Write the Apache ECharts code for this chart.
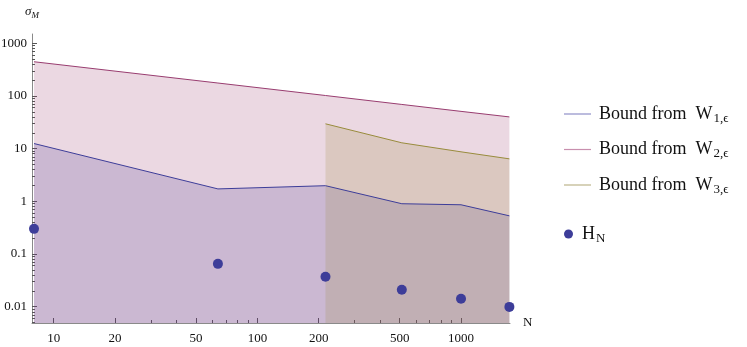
<!DOCTYPE html>
<html>
<head>
<meta charset="utf-8">
<script src="https://cdn.jsdelivr.net/npm/echarts@6/dist/echarts.min.js"></script>
<style>
  html, body { margin: 0; padding: 0; background: #fff; }
  #main { width: 747px; height: 347px; }
</style>
</head>
<body>
<div id="main"></div>
<script>
// sample sizes (cubes) and the bounds
var sizes = [8, 64, 216, 512, 1000, 1728];
var boundW1 = [12.5, 1.72, 1.98, 0.9, 0.86, 0.53];
var boundW2 = [446, 176, 102, 69, 51, 40];
var sizesW3 = [216, 512, 1000, 1728];
var boundW3 = [29.6, 12.9, 8.7, 6.4];
var hN = [0.30, 0.065, 0.037, 0.021, 0.0141, 0.0099];

// tick marks
var xMajor = [10, 20, 50, 100, 200, 500, 1000];
var xMinor = [30, 40, 60, 70, 80, 90, 300, 400, 600, 700, 800, 900];
var yMajor = [0.01, 0.1, 1, 10, 100, 1000];

var lg = function (v) { return Math.log10(v); };
var pairs = function (xs, ys) {
	return xs.map(function (x, i) { return [lg(x), lg(ys[i])]; });
};

var yMinor = [];
[0.001, 0.01, 0.1, 1, 10, 100, 1000].forEach(function (d) {
	for (var k = 2; k <= 9; k++) yMinor.push(d * k);
});

var xMin = lg(7.82), xMax = lg(1728) + 0.003;
var yMin = lg(0.0049), yMax = lg(1500);
yMinor = yMinor.filter(function (v) { return lg(v) > yMin && lg(v) < yMax; });

var cBlue = '#3d3d99', cRed = '#993d70', cOlive = '#998c3d';
var serif = '"Liberation Serif", "DejaVu Serif", serif';
var axisGray = '#8a8a8a';

var fmtPow = function (v) {
	var e = Math.round(v);
	return e < 0 ? Math.pow(10, e).toFixed(-e) : String(Math.round(Math.pow(10, v)));
};

var legendRich = {
	t: { fontFamily: serif, fontSize: 18, color: '#111', lineHeight: 22, verticalAlign: 'middle' },
	s: { fontFamily: serif, fontSize: 13, color: '#111', lineHeight: 12, verticalAlign: 'bottom', padding: [0, 0, 0, 1] }
};
var legendNames = {
	W1: '{t|Bound from  W}{s|1,ϵ}',
	W2: '{t|Bound from  W}{s|2,ϵ}',
	W3: '{t|Bound from  W}{s|3,ϵ}',
	HN: '{t|H}{s|N}'
};

var myChart = echarts.init(document.getElementById('main'), null, { renderer: 'canvas' });

var baseX = {
	type: 'value', min: xMin, max: xMax, position: 'bottom',
	splitLine: { show: false }
};
var baseY = {
	type: 'value', min: yMin, max: yMax, position: 'left',
	splitLine: { show: false }
};

var option = {
	animation: false,
	backgroundColor: '#fff',
	grid: { left: 32, right: 237, top: 34, bottom: 24, containLabel: false, outerBoundsMode: 'none' },
	legend: [{
		data: [
			{ name: 'W1', itemStyle: { color: '#8f8fc8' } },
			{ name: 'W2', itemStyle: { color: '#c88fae' } },
			{ name: 'W3', itemStyle: { color: '#bdb48a' } }
		],
		orient: 'vertical', left: 559, top: 100,
		icon: 'rect', itemWidth: 27, itemHeight: 1.2, itemGap: 15.5,
		formatter: function (n) { return legendNames[n]; },
		textStyle: { padding: [0, 0, 0, 3], rich: legendRich },
		selectedMode: false
	}, {
		data: [{ name: 'HN', itemStyle: { color: cBlue } }],
		orient: 'vertical', left: 559, top: 220,
		icon: 'circle', itemWidth: 9, itemHeight: 9,
		formatter: function (n) { return legendNames[n]; },
		textStyle: { padding: [0, 0, 0, 4], rich: legendRich },
		selectedMode: false
	}],
	xAxis: [
		Object.assign({}, baseX, {
			name: 'N', nameLocation: 'end', nameGap: 13,
			nameTextStyle: { fontFamily: serif, fontSize: 13, color: '#111', padding: [10, 0, 0, 0] },
			axisLine: { show: true, onZero: false, lineStyle: { color: axisGray } },
			axisTick: { show: true, inside: true, length: 5, customValues: xMajor.map(lg), lineStyle: { color: '#555' } },
			axisLabel: { show: true, customValues: xMajor.map(lg), formatter: fmtPow, margin: 9,
				fontFamily: serif, fontSize: 13, color: '#111' }
		}),
		Object.assign({}, baseX, {
			axisLine: { show: false, onZero: false },
			axisTick: { show: true, inside: true, length: 3, customValues: xMinor.map(lg), lineStyle: { color: '#555' } },
			axisLabel: { show: false }
		})
	],
	yAxis: [
		Object.assign({}, baseY, {
			name: '{a|σ}{b|M}', nameLocation: 'end', nameGap: 14,
			nameTextStyle: {
				rich: {
					a: { fontFamily: serif, fontSize: 13, fontStyle: 'italic', color: '#111', verticalAlign: 'middle', lineHeight: 16 },
					b: { fontFamily: serif, fontSize: 9, fontStyle: 'italic', color: '#111', verticalAlign: 'bottom', lineHeight: 9 }
				}
			},
			axisLine: { show: true, onZero: false, lineStyle: { color: axisGray } },
			axisTick: { show: true, inside: true, length: 5, customValues: yMajor.map(lg), lineStyle: { color: '#555' } },
			axisLabel: { show: true, customValues: yMajor.map(lg), formatter: fmtPow, margin: 5,
				fontFamily: serif, fontSize: 13, color: '#111' }
		}),
		Object.assign({}, baseY, {
			axisLine: { show: false, onZero: false },
			axisTick: { show: true, inside: true, length: 3, customValues: yMinor.map(lg), lineStyle: { color: '#555' } },
			axisLabel: { show: false }
		})
	],
	series: [{
		name: 'W1', type: 'line', data: pairs(sizes, boundW1),
		showSymbol: false, symbol: 'none', color: cBlue,
		lineStyle: { color: cBlue, width: 1 },
		areaStyle: { color: cBlue, opacity: 0.2, origin: 'start' }, z: 2
	}, {
		name: 'W2', type: 'line', data: pairs(sizes, boundW2),
		showSymbol: false, symbol: 'none', color: cRed,
		lineStyle: { color: cRed, width: 1 },
		areaStyle: { color: cRed, opacity: 0.2, origin: 'start' }, z: 2
	}, {
		name: 'W3', type: 'line', data: pairs(sizesW3, boundW3),
		showSymbol: false, symbol: 'none', color: cOlive,
		lineStyle: { color: cOlive, width: 1 },
		areaStyle: { color: cOlive, opacity: 0.2, origin: 'start' }, z: 2
	}, {
		name: 'HN', type: 'scatter', data: pairs(sizes, hN),
		symbol: 'circle', symbolSize: 10, color: cBlue,
		itemStyle: { color: cBlue, opacity: 1 }, z: 5
	}]
};

myChart.setOption(option);
</script>
</body>
</html>
